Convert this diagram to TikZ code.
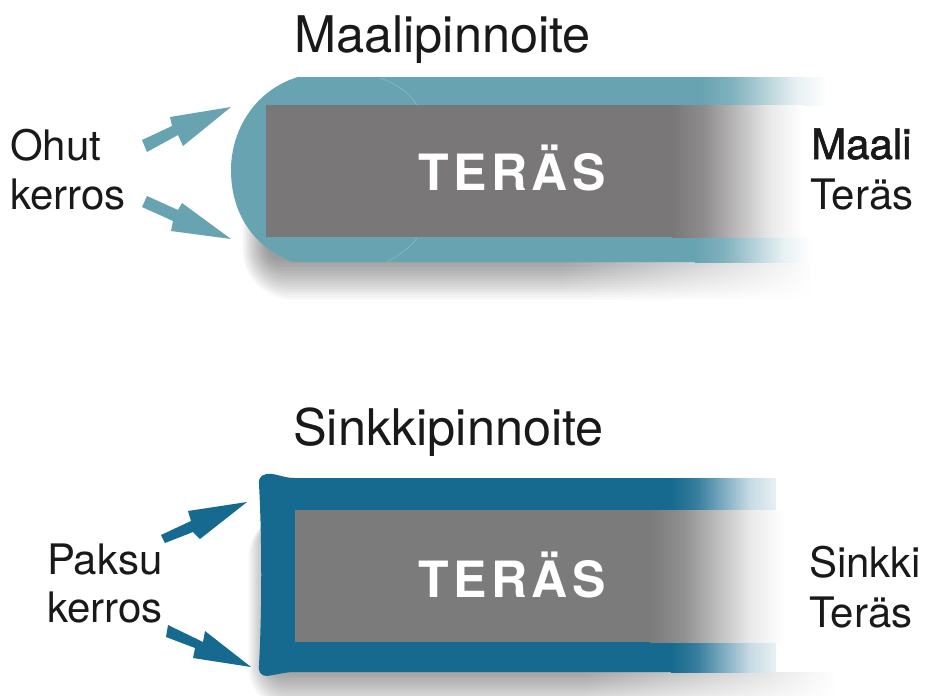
\documentclass[tikz,border=0pt]{standalone}
\usepackage{fontspec}
\setmainfont{TeX Gyre Heros}
\usetikzlibrary{fadings}
\definecolor{paint}{RGB}{104,163,178}
\definecolor{zinc}{RGB}{22,105,143}
\definecolor{steelc}{RGB}{122,119,120}
\definecolor{steeld}{RGB}{123,123,123}
\definecolor{zincend}{RGB}{232,240,244}
\definecolor{inkc}{RGB}{25,25,25}
\newcommand{\declramp}[3]{%
  \colorlet{#1a}{#2!84!#3}\colorlet{#1b}{#2!50!#3}\colorlet{#1c}{#2!16!#3}%
  \pgfdeclarehorizontalshading{#1}{100bp}{color(0bp)=(#2); color(25bp)=(#2); color(37.5bp)=(#1a); color(50bp)=(#1b); color(62.5bp)=(#1c); color(75bp)=(#3); color(100bp)=(#3)}}
\declramp{paintramp}{paint}{white}
\declramp{steelramp}{steelc}{white}
\declramp{steeldramp}{steeld}{white}
\declramp{zincramp}{zinc}{zincend}
\tikzfading[name=fadeR, left color=transparent!100, right color=transparent!0]
\newcommand{\medtext}[1]{\special{pdf:code 2 Tr 0.7 w}#1\special{pdf:code 0 Tr}}
\tikzset{
  label/.style={anchor=base west,inner sep=0pt,text=inkc,font=\fontsize{42}{48}\selectfont},
  title/.style={anchor=base west,inner sep=0pt,text=inkc,font=\fontsize{50.5}{56}\selectfont},
  steeltext/.style={anchor=base,inner sep=0pt,text=white,font=\fontsize{50}{60}\bfseries\selectfont\addfontfeatures{LetterSpace=9}},
}
\begin{document}
\begin{tikzpicture}[x=1pt,y=-1pt]
\useasboundingbox (0,0) rectangle (927,696);
\fill[white] (0,0) rectangle (927,696);
% ---------- top: shadow
\foreach \i in {1,...,16}{
  \pgfmathsetmacro{\rr}{12+2.4*\i}
  \fill[black,opacity=0.028,rounded corners=\rr pt]
    (268-1.6*\i,110) rectangle (840,258+2.6*\i);
}
\fill[white,path fading=fadeR] (560,240) rectangle (812,320);
\fill[white] (811,100) rectangle (927,320);
\fill[white] (660,100) rectangle (927,262);
% ---------- top: paint coat
\fill[paint] (298,77) .. controls (255,90) and (231,130) .. (231,170)
  .. controls (231,215) and (255,248) .. (293,262) -- (701,262) -- (701,77) -- cycle;
\draw[white,opacity=.25,line width=.6pt] (380,78) .. controls (398,84) and (410,94) .. (417,105);
\draw[white,opacity=.25,line width=.6pt] (417,238) .. controls (410,248) and (398,256) .. (387,262);
\shade[shading=paintramp] (700,77) rectangle (828,105);
\shade[shading=paintramp] (695,237) rectangle (812,262);
\fill[white] (672,105) rectangle (702,237);
\fill[steelc] (266,105) rectangle (673,237);
\shade[shading=steelramp] (672,105) rectangle (803,237);
% ---------- top: arrows
\fill[paint] (142,140) -- (172,126) -- (170,117) -- (231,107) -- (183,146) -- (178,135) -- (147,152) -- cycle;
\fill[paint] (147,196) -- (178,210) -- (182,203) -- (231,239) -- (171,231) -- (173,221) -- (142,207) -- cycle;
% ---------- bottom: shadow
\foreach \i in {1,...,16}{
  \pgfmathsetmacro{\rr}{10+2*\i}
  \fill[black,opacity=0.028,rounded corners=\rr pt]
    (274-1.6*\i,515) rectangle (850,668+2.6*\i);
}
\fill[white,path fading=fadeR] (580,640) rectangle (835,720);
\fill[white] (834,640) rectangle (927,720);
\fill[white] (640,470) rectangle (927,672);
% ---------- bottom: zinc coat
\fill[zinc] (259,484) .. controls (258,476) and (264,473) .. (272,474)
  .. controls (280,475) and (285,478) .. (295,478) -- (672,478) -- (672,672) -- (295,672)
  .. controls (285,672) and (275,675) .. (267,676)
  .. controls (261,676) and (258,672) .. (259,665)
  .. controls (262,610) and (262,540) .. (259,484) -- cycle;
\shade[shading=zincramp] (671,478) rectangle (776,510);
\shade[shading=zincramp] (671,642) rectangle (776,672);
\fill[white] (650,510) rectangle (673,642);
\fill[steeld] (295,510) rectangle (651,642);
\shade[shading=steeldramp] (650,510) rectangle (784,642);
% ---------- bottom: arrows
\fill[zinc] (161,535) -- (191,521) -- (188,511) -- (247,502) -- (200,539) -- (193,532) -- (165,543) -- cycle;
\fill[zinc] (168,625) -- (203,642) -- (205,631) -- (251,667) -- (193,658) -- (195,648) -- (166,637) -- cycle;
% ---------- text
\node[title] (t1) at (294,52) {Maalipinnoite};
\node[title] (t2) at (293,445) {Sinkkipinnoite};
\node[steeltext] (s1) at (512,190) {TERÄS};
\node[steeltext] (s2) at (512,597) {TERÄS};
\node[label] (a1) at (10,160) {Ohut};
\node[label] (a2) at (10,209) {kerros};
\node[label] (b1) at (47,574) {Paksu};
\node[label] (b2) at (47,622) {kerros};
\node[label] (c1) at (811,159) {\medtext{Maali}};
\node[label] (c2) at (810,209) {Teräs};
\node[label] (d1) at (809,577) {Sinkki};
\node[label] (d2) at (809,627) {Teräs};
\end{tikzpicture}
\end{document}
